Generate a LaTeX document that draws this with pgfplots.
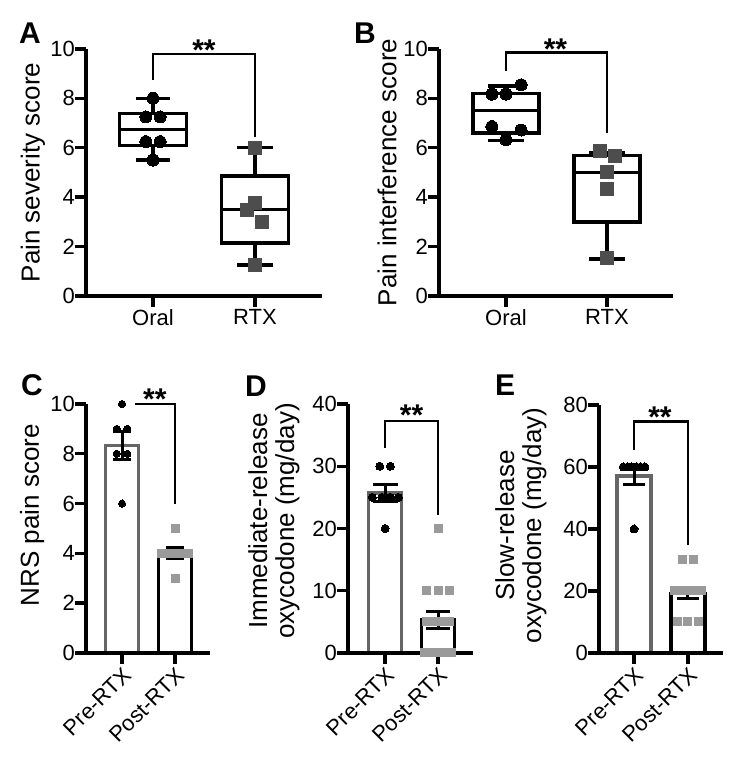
\documentclass[border=0pt]{standalone}
\usepackage{fontspec}
\setmainfont{Liberation Sans}
\usepackage{pgfplots}
\pgfplotsset{compat=1.18}
\usepgfplotslibrary{statistics}
\definecolor{dgrey}{HTML}{4D4D4D}
\definecolor{lgrey}{HTML}{9A9A9A}
\definecolor{bgrey}{HTML}{666666}
\tikzset{stars/.style={font=\bfseries\fontsize{30}{30}\selectfont, anchor=base, inner sep=0pt},
  plab/.style={font=\bfseries\fontsize{30}{30}\selectfont}}
% frame: xmin, xmax, ymax, y tick list, y-tick end x, x-tick end y
\newcommand{\frameP}[6]{%
  \addplot[axl] coordinates {(#1,#3) (#1,0) (#2,0)};
  \pgfplotsinvokeforeach{#4}{\addplot[tkl] coordinates {(#1,##1) (#5,##1)};}
  \addplot[tkl] coordinates {(0,0) (0,#6)};
  \addplot[tkl] coordinates {(1,0) (1,#6)};}
\pgfplotsset{
  panel/.style={
    scale only axis, clip=false,
    axis x line*=bottom, axis y line*=left,
    axis line style={line width=3.5pt, black},
    every tick/.style={line width=3.4pt, black},
    major tick length=10pt,
    tick align=outside,
    /pgf/number format/assume math mode=true,
    tick label style={font=\fontsize{22}{24}\selectfont},
    yticklabel style={inner sep=1pt},
    xticklabel style={inner sep=3pt},
    label style={font=\fontsize{26}{27}\selectfont},
    ylabel style={anchor=center},
    xtick={0,1},
    ymin=0,
  },
  rotlab/.style={xticklabel style={rotate=45, anchor=north east, inner sep=2pt}},
  axl/.style={black, line width=3.5pt, mark=none, line join=miter, forget plot},
  tkl/.style={black, line width=3.4pt, mark=none, forget plot},
  boxst/.style={draw=black, line width=3.4pt, fill=white, solid,
    boxplot/draw direction=y,
    boxplot/every box/.style={draw=black, line width=3.4pt, fill=white},
    boxplot/every whisker/.style={draw=black, line width=3.4pt},
    boxplot/every median/.style={draw=black, line width=3.4pt}},
  brk/.style={black, line width=2.5pt, mark=none, line join=miter},
  eb/.style={black, line width=3pt, mark=none, forget plot},
  dots/.style={only marks, mark=*, mark size=#1, mark options={fill=black, draw=black, line width=0pt}},
  sqd/.style={only marks, mark=square*, mark size=6.5pt, mark options={fill=dgrey, draw=dgrey, line width=0pt}},
  sql/.style={only marks, mark=square*, mark size=4pt, mark options={fill=lgrey, draw=lgrey, line width=0pt}},
  barP/.style={ybar, bar width=#1, bar shift=0pt, draw=bgrey, fill=white, line width=3.4pt},
  barQ/.style={ybar, bar width=#1, bar shift=0pt, draw=black, fill=white, line width=3.4pt},
}
\begin{document}
\begin{tikzpicture}
\path[use as bounding box] (0pt,0pt) rectangle (755pt,773pt);

% ---------------- A ----------------
\begin{axis}[panel, at={(86pt,477pt)}, anchor=south west, width=236pt, height=247pt,
  xmin=-0.657, xmax=1.657, ymax=10, ytick={0,2,...,10}, xticklabels={Oral,RTX},
  ylabel={Pain severity score}, ylabel style={at={(axis description cs:-0.2246,0.5)}}]
\frameP{-0.657}{1.657}{10}{0,2,...,10}{-0.765}{-0.445}
\addplot[boxst, boxplot prepared={draw position=0, lower whisker=5.5, lower quartile=6.1,
  median=6.75, upper quartile=7.4, upper whisker=8.0, box extend=0.657, whisker extend=0.34}] coordinates {};
\addplot[boxst, boxplot prepared={draw position=1, lower whisker=1.25, lower quartile=2.15,
  median=3.5, upper quartile=4.85, upper whisker=6.0, box extend=0.657, whisker extend=0.35}] coordinates {};
\addplot[dots=6pt] coordinates {
  (0,8.0) (-0.07,7.25) (0.07,7.25) (-0.07,6.25) (0.07,6.25) (0,5.5)};
\addplot[sqd] coordinates {
  (1,6.0) (1,3.75) (0.92,3.5) (1.07,3.0) (1,1.25)};
\addplot[brk] coordinates {(0,8.75) (0,9.8) (1,9.8) (1,6.45)};
\node[stars] at (axis cs:0.5,9.55) {**};
\end{axis}

% ---------------- B ----------------
\begin{axis}[panel, at={(439pt,477pt)}, anchor=south west, width=234pt, height=247pt,
  xmin=-0.663, xmax=1.653, ymax=10, ytick={0,2,...,10}, xticklabels={Oral,RTX},
  ylabel={Pain interference score}, ylabel style={at={(axis description cs:-0.222,0.5)}}]
\frameP{-0.663}{1.653}{10}{0,2,...,10}{-0.772}{-0.445}
\addplot[boxst, boxplot prepared={draw position=0, lower whisker=6.3, lower quartile=6.6,
  median=7.5, upper quartile=8.2, upper whisker=8.5, box extend=0.65, whisker extend=0.35}] coordinates {};
\addplot[boxst, boxplot prepared={draw position=1, lower whisker=1.5, lower quartile=3.0,
  median=5.0, upper quartile=5.7, upper whisker=5.8, box extend=0.65, whisker extend=0.35}] coordinates {};
\addplot[dots=6pt] coordinates {
  (-0.14,8.17) (0,8.17) (0.15,8.55) (-0.14,6.86) (0.15,6.72) (0,6.32)};
\addplot[sqd] coordinates {
  (0.93,5.85) (1.075,5.68) (1,5.0) (1,4.32) (1,1.52)};
\addplot[brk] coordinates {(0,9.1) (0,9.85) (1,9.85) (1,6.6)};
\node[stars] at (axis cs:0.49,9.56) {**};
\end{axis}

% ---------------- C ----------------
\begin{axis}[panel, rotlab, at={(86pt,120pt)}, anchor=south west, width=124pt, height=249pt,
  xmin=-0.68, xmax=1.66, ymax=10, ytick={0,2,...,10}, xticklabels={Pre-RTX,Post-RTX},
  ylabel={NRS pain score}, ylabel style={at={(axis description cs:-0.435,0.554)}}]
\addplot[barP=33pt] coordinates {(0,8.33)};
\addplot[barQ=33pt] coordinates {(1,4.0)};
\frameP{-0.68}{1.66}{10}{0,2,...,10}{-0.888}{-0.442}
\addplot[dots=3.6pt] coordinates {
  (0,10) (-0.1,9) (0.1,9) (-0.1,8) (0.1,8) (0,6)};
\addplot[sql] coordinates {
  (1,5) (0.75,4) (0.87,4) (1,4) (1.13,4) (1.25,4) (1,3)};
\addplot[eb] coordinates {(0,7.77) (0,8.89)};
\addplot[eb] coordinates {(-0.17,7.77) (0.17,7.77)};
\addplot[eb] coordinates {(-0.17,8.89) (0.17,8.89)};
\addplot[eb] coordinates {(1,3.78) (1,4.22)};
\addplot[eb] coordinates {(0.83,3.78) (1.17,3.78)};
\addplot[eb] coordinates {(0.83,4.22) (1.17,4.22)};
\addplot[brk] coordinates {(0.245,10) (1,10) (1,6.0)};
\node[stars] at (axis cs:0.62,9.78) {**};
\end{axis}

% ---------------- D ----------------
\begin{axis}[panel, rotlab, at={(348pt,120pt)}, anchor=south west, width=125pt, height=249pt,
  xmin=-0.70, xmax=1.66, ymax=40, ytick={0,10,...,40}, xticklabels={Pre-RTX,Post-RTX},
  ylabel={Immediate-release\\oxycodone (mg/day)},
  ylabel style={align=center, at={(axis description cs:-0.592,0.53)}}]
\addplot[barP=33pt] coordinates {(0,25.7)};
\addplot[barQ=33pt] coordinates {(1,5.3)};
\frameP{-0.70}{1.66}{40}{0,10,...,40}{-0.908}{-1.767}
\addplot[dots=4pt] coordinates {
  (-0.1,30) (0.1,30) (-0.24,25) (-0.06,25) (0.1,25) (0.25,25) (0,20)};
\addplot[sql] coordinates {
  (1,20) (0.78,10) (1,10) (1.22,10) (0.78,5) (0.92,5) (1.08,5) (1.22,5)
  (0.75,0) (0.85,0) (0.95,0) (1.05,0) (1.15,0) (1.25,0)};
\addplot[eb] coordinates {(0,24.4) (0,27.0)};
\addplot[eb] coordinates {(-0.235,24.4) (0.235,24.4)};
\addplot[eb] coordinates {(-0.235,27.0) (0.235,27.0)};
\addplot[eb] coordinates {(1,3.9) (1,6.7)};
\addplot[eb] coordinates {(0.765,3.9) (1.235,3.9)};
\addplot[eb] coordinates {(0.765,6.7) (1.235,6.7)};
\addplot[brk] coordinates {(0,32.9) (0,37.3) (1,37.3) (1,22.1)};
\node[stars] at (axis cs:0.5,36.56) {**};
\end{axis}

% ---------------- E ----------------
\begin{axis}[panel, rotlab, at={(599pt,120pt)}, anchor=south west, width=124pt, height=248pt,
  xmin=-0.65, xmax=1.65, ymax=80, ytick={0,20,...,80}, xticklabels={Pre-RTX,Post-RTX},
  ylabel={Slow-release\\oxycodone (mg/day)},
  ylabel style={align=center, at={(axis description cs:-0.629,0.514)}}]
\addplot[barP=34pt] coordinates {(0,57.1)};
\addplot[barQ=34pt] coordinates {(1,19.2)};
\frameP{-0.65}{1.65}{80}{0,20,...,80}{-0.854}{-3.548}
\addplot[dots=4pt] coordinates {
  (-0.2,60) (-0.12,60) (-0.04,60) (0.04,60) (0.12,60) (0.2,60) (0,40)};
\addplot[sql] coordinates {
  (0.9,30) (1.1,30) (0.75,20) (0.83,20) (0.92,20) (1.0,20) (1.08,20) (1.17,20) (1.25,20)
  (0.8,10) (1.0,10) (1.2,10)};
\addplot[eb] coordinates {(0,54.2) (0,60.0)};
\addplot[eb] coordinates {(-0.2,54.2) (0.2,54.2)};
\addplot[eb] coordinates {(-0.2,60.0) (0.2,60.0)};
\addplot[eb] coordinates {(1,17.7) (1,20.7)};
\addplot[eb] coordinates {(0.8,17.7) (1.2,17.7)};
\addplot[eb] coordinates {(0.8,20.7) (1.2,20.7)};
\addplot[brk] coordinates {(0,65.5) (0,74.6) (1,74.6) (1,34.9)};
\node[stars] at (axis cs:0.48,72.8) {**};
\end{axis}

% panel letters
\node[plab] at (30pt,740pt) {A};
\node[plab] at (365pt,740pt) {B};
\node[plab] at (32pt,388pt) {C};
\node[plab] at (256pt,387pt) {D};
\node[plab] at (505pt,388pt) {E};
\end{tikzpicture}
\end{document}
